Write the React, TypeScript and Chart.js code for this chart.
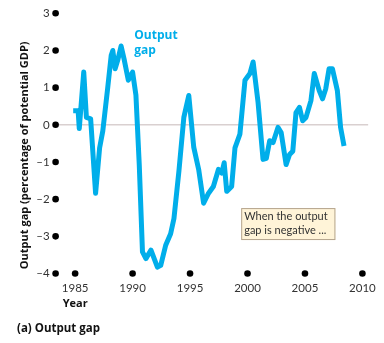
import React, { useEffect, useRef } from "react";
import { Chart, registerables } from "chart.js";

Chart.register(...registerables);

// Output gap, percentage of potential GDP, sampled through time
const years: number[] = [
  1984.83, 1985.26, 1985.36, 1985.75, 1985.98, 1986.35, 1986.78, 1987.13,
  1987.41, 1987.84, 1988.14, 1988.28, 1988.48, 1988.71, 1989.0, 1989.28,
  1989.63, 1990.0, 1990.29, 1990.58, 1990.86, 1991.16, 1991.6, 1992.16,
  1992.45, 1992.88, 1993.31, 1993.6, 1994.03, 1994.46, 1994.89, 1995.32,
  1995.75, 1996.18, 1996.61, 1997.03, 1997.47, 1997.76, 1997.97, 1998.19,
  1998.62, 1998.91, 1999.34, 1999.78, 2000.21, 2000.49, 2000.92, 2001.35,
  2001.64, 2001.93, 2002.22, 2002.65, 2002.93, 2003.36, 2003.66, 2003.94,
  2004.22, 2004.52, 2004.8, 2005.09, 2005.52, 2005.81, 2006.24, 2006.53,
  2006.81, 2007.1, 2007.39, 2007.82, 2008.1, 2008.4,
];
const outputGap: number[] = [
  0.38, 0.38, -0.1, 1.42, 0.2, 0.16, -1.84, -0.62,
  -0.16, 1.01, 1.87, 2.0, 1.51, 1.74, 2.12, 1.74,
  1.2, 1.42, 0.8, -1.07, -3.42, -3.6, -3.37, -3.83,
  -3.78, -3.24, -2.93, -2.52, -1.25, 0.2, 0.79, -0.6,
  -1.2, -2.11, -1.84, -1.66, -1.2, -1.3, -1.02, -1.79,
  -1.66, -0.62, -0.25, 1.2, 1.38, 1.69, 0.6, -0.93,
  -0.9, -0.43, -0.48, -0.07, -0.21, -1.07, -0.8, -0.71,
  0.33, 0.47, 0.11, 0.2, 0.65, 1.38, 0.92, 0.7,
  0.97, 1.51, 1.51, 0.92, -0.07, -0.57,
];

const xTickYears: number[] = [1985, 1990, 1995, 2000, 2005, 2010];
const yTickValues: number[] = [3, 2, 1, 0, -1, -2, -3, -4];
const yTickLabels: string[] = ["3", "2", "1", "0", "\u20131", "\u20132", "\u20133", "\u20134"];

const seriesLabel: string[] = ["Output", "gap"];
const noteLines: string[] = ["When the output", "gap is negative ..."];
const yTitle = "Output gap (percentage of potential GDP)";
const xTitle = "Year";
const caption = "(a) Output gap";

const LINE_BLUE = "#00aeea";
const TEXT = "#333333";
const FONT = "Lato, 'Open Sans', sans-serif";
const BOLD_FONT = "'Open Sans', Lato, sans-serif";

const decorations = {
  id: "decorations",
  afterDraw(chart: any) {
    const { ctx, chartArea, scales } = chart;
    const xs = scales.x;
    const ys = scales.y;
    ctx.save();

    // tick dots along both axes
    ctx.fillStyle = "#000";
    yTickValues.forEach((v) => {
      ctx.beginPath();
      ctx.arc(chartArea.left, ys.getPixelForValue(v), 3.3, 0, Math.PI * 2);
      ctx.fill();
    });
    xTickYears.forEach((v) => {
      ctx.beginPath();
      ctx.arc(xs.getPixelForValue(v), chartArea.bottom, 3.3, 0, Math.PI * 2);
      ctx.fill();
    });

    // axis titles
    ctx.fillStyle = "#111";
    ctx.font = `bold 11px ${BOLD_FONT}`;
    ctx.textAlign = "center";
    ctx.textBaseline = "middle";
    ctx.save();
    ctx.translate(25, ys.getPixelForValue(-0.82));
    ctx.rotate(-Math.PI / 2);
    ctx.fillText(yTitle, 0, 0);
    ctx.restore();
    ctx.fillText(xTitle, xs.getPixelForValue(xTickYears[0]), 303.5);

    ctx.textAlign = "left";
    ctx.font = `bold 11.5px ${BOLD_FONT}`;
    ctx.fillText(caption, 17, 329);

    // series label
    ctx.fillStyle = LINE_BLUE;
    ctx.font = `bold 12px ${BOLD_FONT}`;
    const lx = xs.getPixelForValue(1990.15);
    ctx.fillText(seriesLabel[0], lx, ys.getPixelForValue(2.4));
    ctx.fillText(seriesLabel[1], lx, ys.getPixelForValue(2.0));

    // note box
    const bx = xs.getPixelForValue(1999.45);
    const bx2 = xs.getPixelForValue(2007.65);
    const by = ys.getPixelForValue(-2.24);
    const by2 = ys.getPixelForValue(-3.1);
    ctx.fillStyle = "#fff4d8";
    ctx.fillRect(bx, by, bx2 - bx, by2 - by);
    ctx.strokeStyle = "#b5a58e";
    ctx.lineWidth = 1;
    ctx.strokeRect(bx + 0.5, by + 0.5, bx2 - bx - 1, by2 - by - 1);
    ctx.fillStyle = TEXT;
    ctx.font = `11px ${FONT}`;
    ctx.fillText(noteLines[0], bx + 3, by + 8.5);
    ctx.fillText(noteLines[1], bx + 3, by + 22.5);

    ctx.restore();
  },
};

export default function App() {
  const canvasRef = useRef<HTMLCanvasElement | null>(null);

  useEffect(() => {
    document.body.style.margin = "0";
    const canvas = canvasRef.current;
    if (!canvas) return;
    const chart = new Chart(canvas, {
      type: "line",
      data: {
        datasets: [
          {
            data: years.map((x, i) => ({ x, y: outputGap[i] })),
            borderColor: LINE_BLUE,
            borderWidth: 5,
            borderJoinStyle: "round",
            pointRadius: 0,
            tension: 0,
            fill: false,
          },
        ],
      },
      options: {
        animation: false,
        responsive: false,
        devicePixelRatio: 1,
        layout: { padding: { left: 0, right: 13.2, top: 13.3, bottom: 24.5 } },
        plugins: {
          legend: { display: false },
          tooltip: { enabled: false },
        },
        scales: {
          x: {
            type: "linear",
            min: 1983.3,
            max: 2010.5,
            afterFit: (s: any) => {
              s.height = 45;
            },
            afterBuildTicks: (s: any) => {
              s.ticks = xTickYears.map((v) => ({ value: v }));
            },
            grid: { display: false, drawTicks: false },
            border: { display: false },
            ticks: {
              padding: 8,
              color: TEXT,
              font: { family: FONT, size: 11.5 },
              maxRotation: 0,
              callback: (v: any) => String(v),
            },
          },
          y: {
            min: -4,
            max: 3,
            afterFit: (s: any) => {
              s.width = 55.6;
            },
            afterBuildTicks: (s: any) => {
              s.ticks = yTickValues.map((v) => ({ value: v }));
            },
            grid: {
              drawTicks: false,
              lineWidth: 1.6,
              color: (c: any) => (c.tick && c.tick.value === 0 ? "#d9d0d0" : "rgba(0,0,0,0)"),
            },
            border: { display: false },
            ticks: {
              padding: 6,
              color: TEXT,
              font: { family: FONT, size: 11.5 },
              callback: (v: any) => {
                const i = yTickValues.indexOf(Number(v));
                return i >= 0 ? yTickLabels[i] : "";
              },
            },
          },
        },
      },
      plugins: [decorations],
    });
    return () => chart.destroy();
  }, []);

  return (
    <div style={{ width: 384, height: 343, background: "#fff" }}>
      <canvas ref={canvasRef} width={384} height={343} />
    </div>
  );
}
